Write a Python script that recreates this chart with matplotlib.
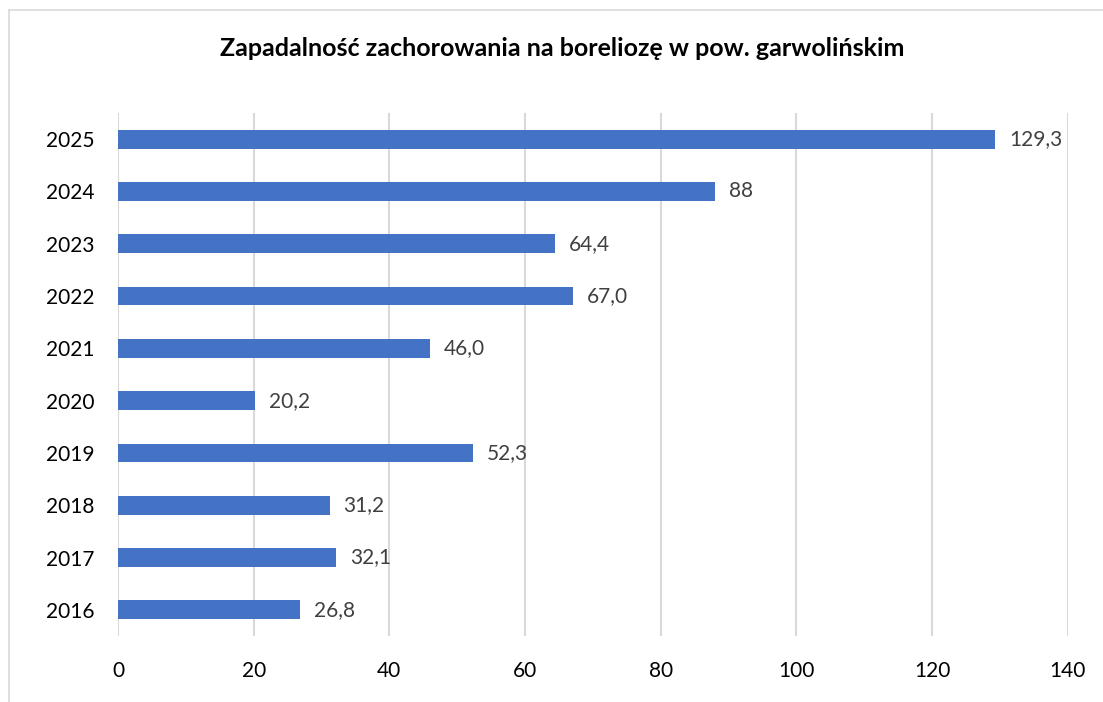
import matplotlib.pyplot as plt
from matplotlib.lines import Line2D

plt.rcParams['font.family'] = ['Lato', 'DejaVu Sans']

years = ['2016', '2017', '2018', '2019', '2020', '2021', '2022', '2023', '2024', '2025']
values = [26.8, 32.1, 31.2, 52.3, 20.2, 46.0, 67.0, 64.4, 88, 129.3]
labels = ['26,8', '32,1', '31,2', '52,3', '20,2', '46,0', '67,0', '64,4', '88', '129,3']
xticks = [0, 20, 40, 60, 80, 100, 120, 140]

fig = plt.figure(figsize=(11.03, 7.02), dpi=100)
ax = fig.add_axes([0.107, 0.094, 0.861, 0.745])

bars = ax.barh(range(len(years)), values, height=0.36, color='#4472C4', zorder=3)
ax.bar_label(bars, labels=labels, padding=10, fontsize=15, color='#404040')

ax.set_xlim(0, 140)
ax.set_ylim(-0.5, len(years) - 0.5)
ax.set_xticks(xticks)
ax.set_yticks(range(len(years)))
ax.set_yticklabels(years)
ax.tick_params(length=0, labelsize=15, labelcolor='black')
ax.tick_params(axis='x', pad=18)
ax.tick_params(axis='y', pad=17)
ax.grid(axis='x', color='#D9D9D9', linewidth=1.5, zorder=0)
for s in ax.spines.values():
    s.set_visible(False)

fig.text(0.510, 0.931, 'Zapadalność zachorowania na boreliozę w pow. garwolińskim',
         ha='center', va='center', fontsize=18, fontweight='bold')

# frame lines at top and left
fig.add_artist(Line2D([0.008, 1.0], [0.986, 0.986], color='#D9D9D9', linewidth=1.2))
fig.add_artist(Line2D([0.008, 0.008], [0.0, 0.986], color='#D9D9D9', linewidth=1.2))

fig.savefig('out.png', dpi=100)
